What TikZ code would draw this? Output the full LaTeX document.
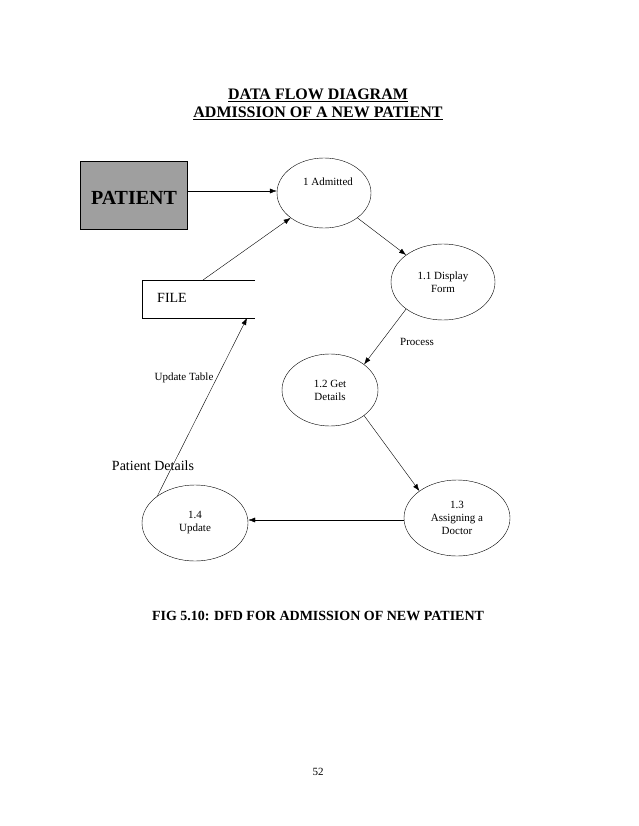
\documentclass[tikz,border=0pt]{standalone}
\usepackage{fontspec}
\setmainfont{Liberation Serif}
\usetikzlibrary{arrows.meta,positioning,shapes.geometric}
\tikzset{
  proc/.style={draw, ellipse, minimum width=96pt, minimum height=72pt, font=\fontsize{11}{13}\selectfont, align=center},
  flow/.style={-{Latex[length=7pt,width=5pt]}},
  lbl/.style={font=\fontsize{11}{13}\selectfont}
}
\begin{document}
\begin{tikzpicture}[x=1pt, y=-1pt]
  \useasboundingbox (0,0) rectangle (638,826);
  % Title
  \node[font=\bfseries\fontsize{16}{18}\selectfont] (title) at (318,95) {\underline{DATA FLOW DIAGRAM}};
  \node[font=\bfseries\fontsize{16}{18}\selectfont] (subtitle) at (318,113) {\underline{ADMISSION OF A NEW PATIENT}};
  % External entity
  \node[draw, fill=gray!75, minimum width=107pt, minimum height=68pt, anchor=north west] (patient) at (80,161) {};
  \node[font=\bfseries\fontsize{20}{22}\selectfont] (patlbl) at (134,198) {PATIENT};
  % Processes
  \node[proc, minimum width=94pt, minimum height=70pt] (p1) at (324,193) {};
  \node[lbl] at (328,182) {1 Admitted};
  \node[proc, minimum width=104pt, minimum height=76pt] (p11) at (443,282) {1.1 Display\\Form};
  \node[proc] (p12) at (330,390) {1.2 Get\\Details};
  \node[proc, minimum width=106pt, minimum height=76pt] (p13) at (457,518) {1.3\\Assigning a\\Doctor};
  \node[proc, minimum width=106pt, minimum height=76pt] (p14) at (195,523) {1.4\\Update};
  % Data store
  \draw (255,280) -- (142,280) -- (142,318) -- (255,318);
  \node[font=\fontsize{14}{16}\selectfont] (file) at (172,298) {FILE};
  \coordinate (fileIn) at (247,318);
  \coordinate (fileOut) at (203,280);
  % Flows
  \draw[flow] (patient.east |- 0,191) -- (p1.west |- 0,191);
  \draw[flow] (p1.south east) -- (p11.north west);
  \draw[flow] (p11.south west) -- (p12.north east);
  \draw[flow] (p12.south east) -- (p13.north west);
  \draw[flow] (p13.west |- 0,520) -- (p14.east |- 0,520);
  \draw[flow] (p14.north west) -- (fileIn);
  \draw[flow] (fileOut) -- (p1.south west);
  % Labels
  \node[lbl] at (417,342) {Process};
  \node[lbl] at (184,378) {Update Table};
  \node[font=\fontsize{14}{16}\selectfont] at (153,466) {Patient Details};
  \node[font=\bfseries\fontsize{14}{16}\selectfont] (caption) at (318,616) {FIG 5.10: DFD FOR ADMISSION OF NEW PATIENT};
  \node[lbl] (page) at (318,772) {52};
\end{tikzpicture}
\end{document}
